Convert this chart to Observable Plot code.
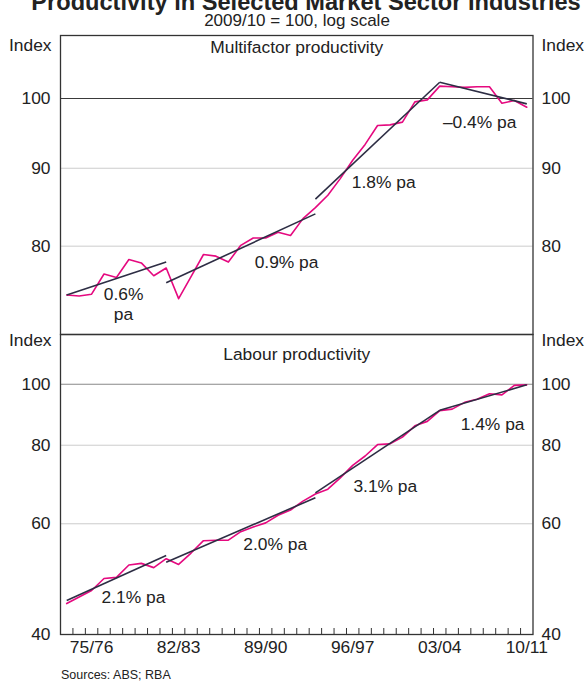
<!DOCTYPE html>
<html><head><meta charset="utf-8">
<script src="https://cdn.jsdelivr.net/npm/d3@7"></script>
<script src="https://cdn.jsdelivr.net/npm/@observablehq/plot@0.6"></script>
<style>
body{margin:0;background:#fff;}
#wrap{position:relative;width:588px;height:682px;overflow:hidden;font-family:"Liberation Sans",Arial,sans-serif;color:#222;background:#fff;}
#title{position:absolute;left:0;width:612px;text-align:center;top:-9.5px;font-weight:bold;font-size:23.6px;line-height:23.6px;white-space:nowrap;}
#subtitle{position:absolute;left:0;width:594px;text-align:center;top:11.6px;font-size:17px;line-height:17px;white-space:nowrap;}
#top{position:absolute;left:0;top:0;}
#bottom{position:absolute;left:0;top:334px;}
#caption{position:absolute;left:61px;top:668px;font-size:12.5px;line-height:14px;white-space:nowrap;}
</style></head>
<body>
<div id="wrap">
  <div id="title">Productivity in Selected Market Sector Industries</div>
  <div id="subtitle">2009/10 = 100, log scale</div>
  <div id="top"></div>
  <div id="bottom"></div>
  <div id="caption">Sources: ABS; RBA</div>
</div>
<script>
// Financial years (year ending June): 1974 = 1973/74 ... 2011 = 2010/11
const fyEnd = [1974,1975,1976,1977,1978,1979,1980,1981,1982,1983,1984,1985,1986,1987,1988,1989,1990,1991,1992,1993,1994,1995,1996,1997,1998,1999,2000,2001,2002,2003,2004,2005,2006,2007,2008,2009,2010,2011];

// Multifactor productivity index (2009/10 = 100)
const mfp = [74.3,74.2,74.4,76.7,76.3,78.4,78.0,76.5,77.4,73.9,76.4,79.0,78.8,78.1,80.1,81.0,81.0,81.7,81.3,83.4,84.8,86.4,88.6,91.1,93.3,96.0,96.1,96.5,99.5,99.8,101.9,101.8,101.7,101.8,101.8,99.3,99.7,98.7];

// Labour productivity index (2009/10 = 100)
const lp = [44.8,45.9,47.0,49.1,49.3,51.6,51.9,51.1,52.8,51.7,53.9,56.4,56.5,56.5,58.3,59.3,60.2,61.9,63.1,65.2,66.9,68.1,71.0,74.3,76.9,80.2,80.4,82.4,85.9,87.3,90.8,91.3,93.6,94.7,96.6,96.2,99.6,99.8];

// Trend segments (cycle peaks)
const trendFrom = [1974,1982,1994,2004];
const trendTo   = [1982,1994,2004,2011];
const mfpTrendStart = [74.3,75.7,85.9,102.5];
const mfpTrendEnd   = [78.1,84.0,102.5,99.2];
const lpTrendStart  = [45.3,52.1,67.2,90.9];
const lpTrendEnd    = [53.4,66.0,90.9,99.8];

// Growth-rate annotations
const mfpRateText = ["0.6%\npa","0.9% pa","1.8% pa","\u20130.4% pa"];
const mfpRateYear = [1978.57,1991.68,1999.49,2007.21];
const mfpRateValue = [73.38,78.13,88.16,96.53];
const lpRateText = ["2.1% pa","2.0% pa","3.1% pa","1.4% pa"];
const lpRateYear = [1979.37,1990.77,1999.62,2008.25];
const lpRateValue = [45.87,55.72,68.90,86.25];

// Axis ticks
const mfpTicks = [80,90,100];
const lpTicks = [40,60,80,100];
const xTickLabels = ["75/76","82/83","89/90","96/97","03/04","10/11"];

const PINK = "#e5097f";
const NAVY = "#2d2d44";
const FONT = "'Liberation Sans', Arial, sans-serif";

const rows = fyEnd.map((f,i)=>({fy:f, mfp:mfp[i], lp:lp[i]}));
const mfpTrend = trendFrom.map((a,i)=>({a, b:trendTo[i], va:mfpTrendStart[i], vb:mfpTrendEnd[i]}));
const lpTrend = trendFrom.map((a,i)=>({a, b:trendTo[i], va:lpTrendStart[i], vb:lpTrendEnd[i]}));
const mfpRates = mfpRateText.map((t,i)=>({t, x:mfpRateYear[i], v:mfpRateValue[i]}));
const lpRates = lpRateText.map((t,i)=>({t, x:lpRateYear[i], v:lpRateValue[i]}));
const labelYear = l => { const n = +l.split("/")[1]; return (n < 50 ? 2000 : 1900) + n; };
const boundaries = d3.range(1974.5, 2011, 1);

const common = {
  width: 588,
  marginLeft: 60,
  marginRight: 55.5,
  x: {domain: [1973.5, 2011.5], axis: null},
  style: {fontFamily: FONT, fontSize: "17.4px", background: "transparent", overflow: "visible", color: "#222"}
};
const txt = {fontSize: 17.4, fill: "#222"};

const topPlot = Plot.plot({
  ...common,
  height: 334,
  marginTop: 35,
  marginBottom: 0,
  y: {type: "log", domain: [70, 110], axis: null},
  marks: [
    Plot.ruleY([80, 90], {stroke: "#cccccc", strokeWidth: 1}),
    Plot.ruleY([100], {stroke: "#3a3a3a", strokeWidth: 1.1}),
    Plot.frame({stroke: "#333", strokeWidth: 1.3}),
    Plot.line(rows, {x: "fy", y: "mfp", stroke: PINK, strokeWidth: 1.6}),
    Plot.link(mfpTrend, {x1: "a", y1: "va", x2: "b", y2: "vb", stroke: NAVY, strokeWidth: 1.6}),
    Plot.text(mfpRates, {x: "x", y: "v", text: "t", lineHeight: 1.14, ...txt}),
    Plot.text(mfpTicks, {y: d => d, text: d => String(d), frameAnchor: "left", textAnchor: "end", dx: -10, ...txt}),
    Plot.text(mfpTicks, {y: d => d, text: d => String(d), frameAnchor: "right", textAnchor: "start", dx: 8.5, ...txt}),
    Plot.text(["Index"], {frameAnchor: "top-left", textAnchor: "end", lineAnchor: "top", dx: -9, dy: 3, ...txt}),
    Plot.text(["Index"], {frameAnchor: "top-right", textAnchor: "start", lineAnchor: "top", dx: 8.5, dy: 3, ...txt}),
    Plot.text(["Multifactor productivity"], {frameAnchor: "top", lineAnchor: "top", dy: 5, ...txt})
  ]
});

const bottomPlot = Plot.plot({
  ...common,
  height: 334,
  marginTop: 0,
  marginBottom: 34,
  y: {type: "log", domain: [40, 120], axis: null},
  marks: [
    Plot.ruleY([60, 80], {stroke: "#cccccc", strokeWidth: 1}),
    Plot.ruleY([100], {stroke: "#888888", strokeWidth: 1.1}),
    Plot.ruleX(boundaries, {insetTop: 294, stroke: "#333", strokeWidth: 1}),
    Plot.frame({stroke: "#333", strokeWidth: 1.3}),
    Plot.line(rows, {x: "fy", y: "lp", stroke: PINK, strokeWidth: 1.6}),
    Plot.link(lpTrend, {x1: "a", y1: "va", x2: "b", y2: "vb", stroke: NAVY, strokeWidth: 1.6}),
    Plot.text(lpRates, {x: "x", y: "v", text: "t", ...txt}),
    Plot.text(lpTicks, {y: d => d, text: d => String(d), frameAnchor: "left", textAnchor: "end", dx: -10, ...txt}),
    Plot.text(lpTicks, {y: d => d, text: d => String(d), frameAnchor: "right", textAnchor: "start", dx: 8.5, ...txt}),
    Plot.text(["Index"], {frameAnchor: "top-left", textAnchor: "end", lineAnchor: "top", dx: -9, dy: -1, ...txt}),
    Plot.text(["Index"], {frameAnchor: "top-right", textAnchor: "start", lineAnchor: "top", dx: 8.5, dy: -1, ...txt}),
    Plot.text(["Labour productivity"], {frameAnchor: "top", lineAnchor: "top", dy: 13, ...txt}),
    Plot.text(xTickLabels, {x: labelYear, text: d => d, frameAnchor: "bottom", lineAnchor: "top", dy: 6.5, ...txt})
  ]
});

document.getElementById("top").appendChild(topPlot);
document.getElementById("bottom").appendChild(bottomPlot);
</script>
</body></html>
